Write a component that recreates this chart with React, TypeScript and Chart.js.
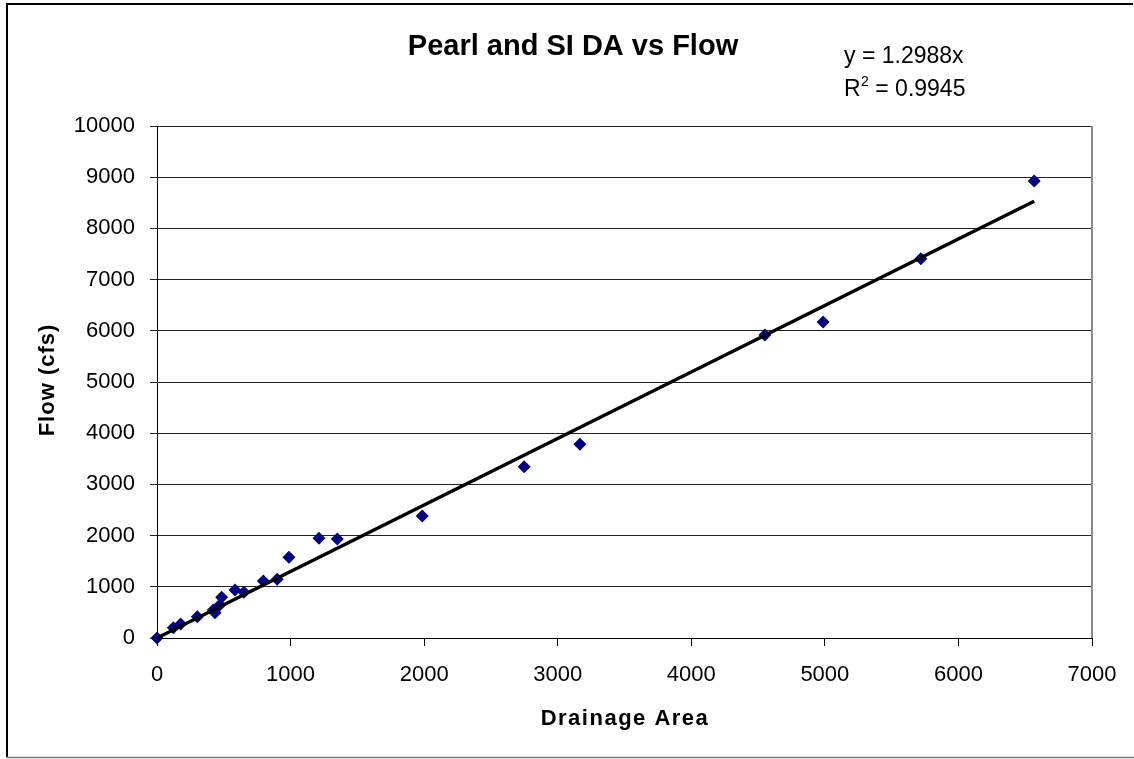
import React, { useEffect, useRef } from "react";
import { Chart, registerables } from "chart.js";

Chart.register(...registerables);

const drainageArea = [0, 122, 177, 302, 421, 434, 470, 484, 584, 651, 796, 900, 988, 1213, 1350, 1986, 2749, 3166, 4551, 4987, 5719, 6567];
const flow = [0, 201, 273, 416, 547, 494, 645, 795, 937, 892, 1113, 1146, 1576, 1947, 1934, 2383, 3346, 3783, 5918, 6172, 7408, 8926];
const trendSlope = 1.2988;
const trendX = [0, 6567];
const titleText = "Pearl and SI DA vs Flow";
const eqLine1 = "y = 1.2988x";
const eqR2Value = " = 0.9945";
const xAxisTitle = "Drainage Area";
const yAxisTitle = "Flow (cfs)";

const W = 1134;
const H = 759;
const FONT = "'Liberation Sans', Arial, sans-serif";

export default function App() {
  const ref = useRef<HTMLCanvasElement | null>(null);
  useEffect(() => {
    const canvas = ref.current;
    if (!canvas) return;
    const decor = {
      id: "decor",
      beforeDraw(chart: any) {
        const ctx = chart.ctx;
        ctx.save();
        ctx.fillStyle = "#fff";
        ctx.fillRect(0, 0, W, H);
        ctx.restore();
      },
      afterDraw(chart: any) {
        const ctx = chart.ctx;
        const a = chart.chartArea;
        ctx.save();
        // right plot border
        ctx.strokeStyle = "#888";
        ctx.lineWidth = 2;
        ctx.beginPath();
        ctx.moveTo(a.right, a.top);
        ctx.lineTo(a.right, a.bottom);
        ctx.stroke();
        // outer frame
        ctx.strokeStyle = "#000";
        ctx.lineWidth = 2;
        ctx.beginPath();
        ctx.moveTo(7, 757);
        ctx.lineTo(7, 4);
        ctx.lineTo(1133, 4);
        ctx.stroke();
        ctx.strokeStyle = "#777";
        ctx.lineWidth = 1.5;
        ctx.beginPath();
        ctx.moveTo(7, 757.5);
        ctx.lineTo(1134, 757.5);
        ctx.stroke();
        // title
        ctx.fillStyle = "#000";
        ctx.textAlign = "center";
        ctx.textBaseline = "alphabetic";
        ctx.font = `bold 29px ${FONT}`;
        ctx.fillText(titleText, 573, 55);
        // equation
        ctx.textAlign = "left";
        ctx.font = `23px ${FONT}`;
        ctx.fillText(eqLine1, 844, 63);
        ctx.fillText("R", 844, 96);
        const rw = ctx.measureText("R").width;
        ctx.font = `14px ${FONT}`;
        ctx.fillText("2", 844 + rw + 0.5, 86);
        const sw = ctx.measureText("2").width;
        ctx.font = `23px ${FONT}`;
        ctx.fillText(eqR2Value, 844 + rw + sw + 0.5, 96);
        // x axis title
        ctx.textAlign = "center";
        ctx.font = `bold 22px ${FONT}`;
        (ctx as any).letterSpacing = "1.5px";
        ctx.fillText(xAxisTitle, 625, 725);
        // y axis title
        ctx.save();
        ctx.translate(54, 380);
        ctx.rotate(-Math.PI / 2);
        (ctx as any).letterSpacing = "1px";
        ctx.fillText(yAxisTitle, 0, 0);
        ctx.restore();
        (ctx as any).letterSpacing = "0px";
        ctx.restore();
      },
    };

    const plain = (v: any) => String(v);

    const chart = new Chart(canvas, {
      type: "scatter",
      data: {
        datasets: [
          {
            type: "line",
            label: "Trend",
            data: trendX.map((x) => ({ x, y: trendSlope * x })),
            borderColor: "#000",
            borderWidth: 3.5,
            pointRadius: 0,
            fill: false,
            clip: false,
            order: 0,
          } as any,
          {
            label: "Data",
            data: drainageArea.map((x, i) => ({ x, y: flow[i] })),
            pointStyle: "rectRot",
            pointRadius: 6.5,
            backgroundColor: "#000080",
            borderColor: "#000080",
            borderWidth: 0,
            clip: false,
            order: 1,
          } as any,
        ],
      },
      options: {
        animation: false,
        responsive: false,
        events: [],
        layout: { padding: { top: 126, right: 42, left: 0, bottom: 0 } },
        plugins: { legend: { display: false }, tooltip: { enabled: false }, title: { display: false } },
        scales: {
          x: {
            type: "linear",
            min: 0,
            max: 7000,
            afterFit: (s: any) => {
              s.height = H - 638;
            },
            ticks: {
              stepSize: 1000,
              color: "#000",
              font: { family: FONT, size: 22 },
              padding: 16,
              callback: plain,
            },
            grid: { drawOnChartArea: false, drawTicks: true, tickLength: 8, color: "#000" },
            border: { display: true, color: "#000", width: 1 },
          },
          y: {
            type: "linear",
            min: 0,
            max: 10000,
            afterFit: (s: any) => {
              s.width = 157;
            },
            ticks: {
              stepSize: 1000,
              color: "#000",
              font: { family: FONT, size: 22 },
              padding: 15,
              callback: plain,
            },
            grid: { drawOnChartArea: true, drawTicks: true, tickLength: 7, color: "#222" },
            border: { display: true, color: "#000", width: 1 },
          },
        },
      },
      plugins: [decor],
    });
    return () => chart.destroy();
  }, []);

  return (
    <div style={{ position: "fixed", left: 0, top: 0, width: W, height: H, background: "#fff" }}>
      <canvas ref={ref} width={W} height={H} style={{ display: "block", width: W, height: H }} />
    </div>
  );
}
